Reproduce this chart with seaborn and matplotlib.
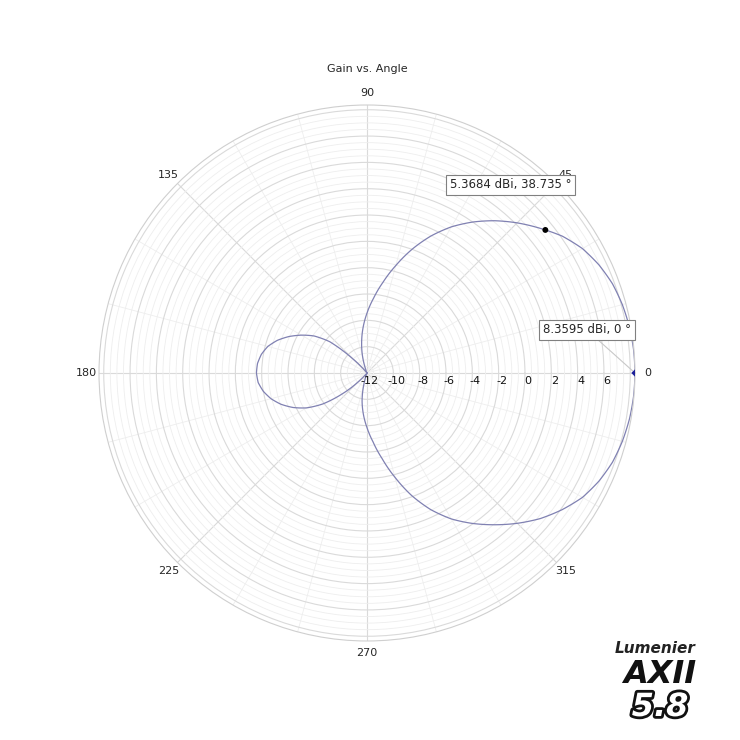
import numpy as np
import matplotlib
matplotlib.use("Agg")
import matplotlib.pyplot as plt
import matplotlib.patheffects as pe
import seaborn as sns

# Gain pattern (deg, dBi); values below -12 fall in the nulls
angle_deg = [0, 5, 10, 15, 20, 25, 30, 35, 38.735, 45, 50, 55, 60, 65, 70, 75, 80, 85,
             90, 95, 100, 105, 110, 115, 120, 125, 130, 135, 140, 145, 150, 155, 160,
             165, 170, 175, 180, 185, 190, 195, 200, 205, 210, 215, 220, 225, 230, 235,
             240, 245, 250, 255, 260, 265, 270, 275, 280, 285, 290, 295, 300, 305, 310,
             315, 320, 325, 330, 335, 340, 345, 350, 355, 360]
gain_dbi = [8.3595, 8.33, 8.24, 8.08, 7.84, 7.44, 6.9, 6.12, 5.3684, 4.13, 3.1, 2.0, 0.82,
            -0.52, -2.0, -3.55, -5.0, -6.3, -7.45, -8.55, -9.65, -10.7, -11.7, -13.5, -15.0,
            -14.0, -12.5, -10.5, -8.3, -7.1, -6.25, -5.45, -4.75, -4.2, -3.85, -3.65, -3.6,
            -3.7, -4.0, -4.45, -5.05, -5.8, -6.7, -7.9, -9.5, -11.0, -13.0, -15.0, -14.0,
            -12.8, -12.3, -11.0, -9.85, -8.85, -7.85, -6.75, -5.4, -3.8, -2.1, -0.55, 0.8, 1.95,
            3.05, 4.15, 5.2, 6.1, 6.9, 7.44, 7.84, 8.08, 8.24, 8.33, 8.3595]

ring_values = [-12, -10, -8, -6, -4, -2, 0, 2, 4, 6]
ring_labels = ["-12", "-10", "-8", "-6", "-4", "-2", "0", "2", "4", "6"]
angle_ticks = [0, 45, 90, 135, 180, 225, 270, 315]
angle_labels = ["0", "45", "90", "135", "180", "225", "270", "315"]

tip_angle = [38.735, 0]
tip_gain = [5.3684, 8.3595]
tip_text = ["5.3684 dBi, 38.735 °", "8.3595 dBi, 0 °"]

r_min = -12
r_max = 8.3595

sns.set_style("white")
plt.rcParams['font.family'] = ['DejaVu Sans']

fig = plt.figure(figsize=(7.4, 7.4), dpi=100)
ax = fig.add_axes([0.1338, 0.1338, 0.7243, 0.7243], projection='polar')

theta = np.deg2rad(angle_deg)
r = np.clip(gain_dbi, r_min, None)
sns.lineplot(x=theta, y=r, sort=False, estimator=None, ax=ax,
             color='#8081b2', linewidth=0.9)
# let the polar transform bend each segment instead of drawing chords
ax.lines[0].get_path()._interpolation_steps = 16

ax.set_ylim(r_min, r_max)
ax.set_yticks(ring_values + [8])
ax.set_yticklabels([])
ax.set_yticks(np.arange(-12, 8.3, 0.5), minor=True)
ax.set_xticks(np.deg2rad(angle_ticks))
ax.set_xticklabels(angle_labels, fontsize=8)
ax.set_xticks(np.deg2rad(np.arange(0, 360, 15)), minor=True)
ax.tick_params(which='both', length=0)
ax.tick_params(axis='x', pad=2)
ax.grid(which='major', color='#dadada', linewidth=0.8)
ax.grid(which='minor', color='#eeeeee', linewidth=0.6)
ax.spines['polar'].set_color('#cfcfcf')
ax.spines['polar'].set_linewidth(0.8)
ax.set_xlabel('')
ax.set_ylabel('')

for v, lab in zip(ring_values, ring_labels):
    ax.annotate(lab, xy=(0, v), xytext=(3, -3), textcoords='offset pixels',
                ha='center', va='top', fontsize=8, color='#111111')

ax.set_title('Gain vs. Angle', fontsize=8, pad=11)

# data tips
sns.scatterplot(x=[np.deg2rad(tip_angle[0])], y=[tip_gain[0]], ax=ax, color='black',
                s=18, edgecolor='none', zorder=5)
sns.scatterplot(x=[np.deg2rad(tip_angle[1])], y=[tip_gain[1]], ax=ax, color='#1b1f9a',
                s=14, marker='D', edgecolor='none', zorder=5)

box = dict(boxstyle='square,pad=0.3', fc='white', ec='#808080', lw=0.8)
ax.annotate(tip_text[0], xy=(np.deg2rad(tip_angle[0]), tip_gain[0]), xytext=(-35, 45),
            textcoords='offset pixels', ha='center', va='center', fontsize=8.5, bbox=box)
ax.annotate(tip_text[1], xy=(np.deg2rad(tip_angle[1]), tip_gain[1]), xytext=(-48, 43),
            textcoords='offset pixels', ha='center', va='center', fontsize=8.5, bbox=box,
            arrowprops=dict(arrowstyle='-', color='#c8c8c8', lw=0.8, shrinkA=0, shrinkB=2))

# logo
fig.text(0.885, 1 - 653 / 740, 'Lumenier', fontsize=11, style='italic', weight='bold',
         color='#222222', ha='center', va='baseline')
fig.text(0.892, 1 - 683 / 740, 'AXII', fontsize=23, style='italic', weight='heavy',
         color='#111111', ha='center', va='baseline')
fig.text(0.892, 1 - 716 / 740, '5.8', fontsize=23, style='italic', weight='heavy',
         color='white', ha='center', va='baseline',
         path_effects=[pe.withStroke(linewidth=4, foreground='#111111')])

fig.savefig('out.png', dpi=100, facecolor='white')
